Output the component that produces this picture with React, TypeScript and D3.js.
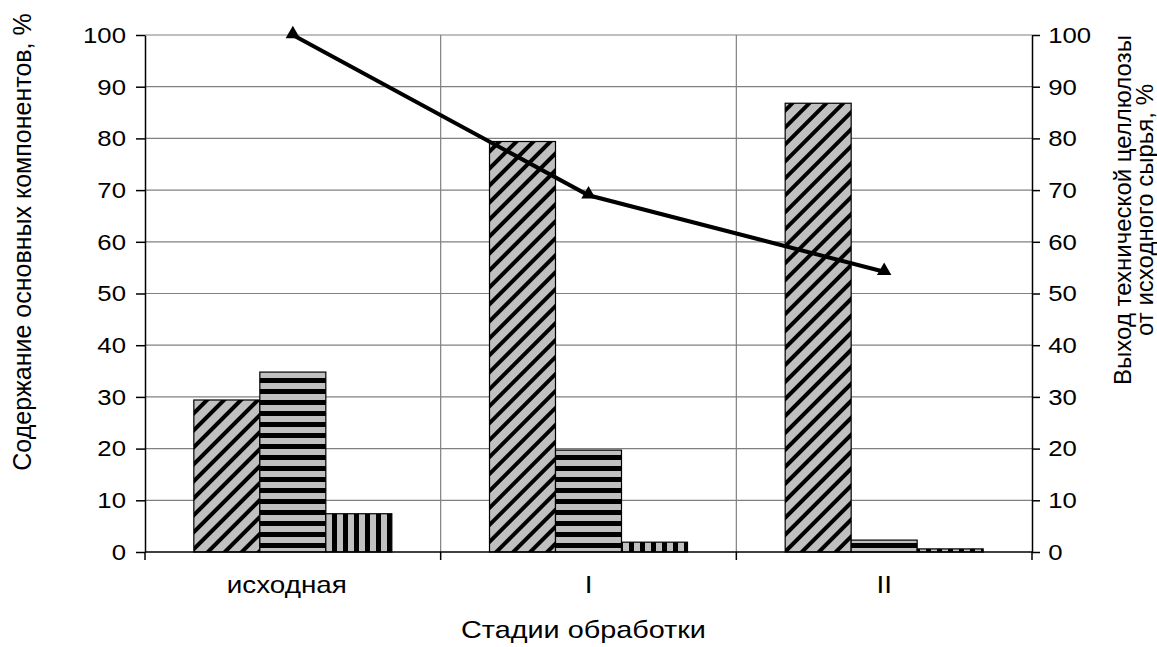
import React, { useEffect, useRef } from 'react';
import * as d3 from 'd3';

const categories = ['исходная', 'I', 'II'];
const seriesA = [29.4, 79.4, 86.8];
const seriesB = [34.8, 19.7, 2.3];
const seriesC = [7.4, 1.9, 0.6];
const yieldValues = [100, 69, 54.2];
const yTicks = [0, 10, 20, 30, 40, 50, 60, 70, 80, 90, 100];

const FONT = '"Liberation Sans", Arial, sans-serif';
const SX = 1.12; // horizontal stretch of the original picture's lettering

const App: React.FC = () => {
  const ref = useRef<SVGSVGElement>(null);

  useEffect(() => {
    if (!ref.current) return;
    const svg = d3.select(ref.current);
    svg.selectAll('*').remove();

    const width = 1157;
    const height = 647;
    const margin = { top: 35, right: 125, bottom: 95, left: 145 };
    const innerW = width - margin.left - margin.right;
    const innerH = height - margin.top - margin.bottom;

    // patterns
    const defs = svg.append('defs');
    const diag = defs.append('pattern')
      .attr('id', 'pDiag').attr('patternUnits', 'userSpaceOnUse')
      .attr('width', 12).attr('height', 12)
      .attr('patternTransform', 'rotate(45)');
    diag.append('rect').attr('width', 12).attr('height', 12).attr('fill', '#c0c0c0');
    diag.append('rect').attr('width', 4).attr('height', 12).attr('fill', '#000');

    const horiz = defs.append('pattern')
      .attr('id', 'pHoriz').attr('patternUnits', 'userSpaceOnUse')
      .attr('width', 11).attr('height', 11).attr('y', margin.top + innerH);
    horiz.append('rect').attr('width', 11).attr('height', 11).attr('fill', '#c0c0c0');
    horiz.append('rect').attr('width', 11).attr('height', 5).attr('fill', '#000');

    const vert = defs.append('pattern')
      .attr('id', 'pVert').attr('patternUnits', 'userSpaceOnUse')
      .attr('width', 11).attr('height', 11);
    vert.append('rect').attr('width', 11).attr('height', 11).attr('fill', '#c0c0c0');
    vert.append('rect').attr('width', 5).attr('height', 11).attr('fill', '#000');

    const g = svg.append('g').attr('transform', `translate(${margin.left},${margin.top})`);

    const x = d3.scaleBand().domain(categories).range([0, innerW]).padding(0);
    const xSub = d3.scaleBand<number>().domain([0, 1, 2]).range([0, x.bandwidth()])
      .paddingInner(0).paddingOuter(0.74);
    const y = d3.scaleLinear().domain([0, 100]).range([innerH, 0]);

    // gridlines
    g.selectAll('.hgrid').data(yTicks.filter(t => t > 0)).enter().append('line')
      .attr('x1', 0).attr('x2', innerW)
      .attr('y1', d => y(d)).attr('y2', d => y(d))
      .attr('stroke', '#808080').attr('stroke-width', 1.2);
    g.selectAll('.vgrid').data(categories.slice(1)).enter().append('line')
      .attr('x1', d => x(d) || 0).attr('x2', d => x(d) || 0)
      .attr('y1', 0).attr('y2', innerH)
      .attr('stroke', '#808080').attr('stroke-width', 1.2);

    // bars
    const series = [
      { values: seriesA, fill: 'url(#pDiag)' },
      { values: seriesB, fill: 'url(#pHoriz)' },
      { values: seriesC, fill: 'url(#pVert)' },
    ];
    series.forEach((s, si) => {
      g.selectAll(`.bar${si}`).data(s.values).enter().append('rect')
        .attr('x', (d, i) => (x(categories[i]) || 0) + (xSub(si) || 0))
        .attr('y', d => y(d))
        .attr('width', xSub.bandwidth())
        .attr('height', d => innerH - y(d))
        .attr('fill', s.fill)
        .attr('stroke', '#000').attr('stroke-width', 1.2);
    });

    // axes
    const axisStyle = (sel: any, side: number) => {
      sel.selectAll('line, path').attr('stroke', '#000').attr('stroke-width', 1.5);
      sel.selectAll('text')
        .style('font-family', FONT).style('font-size', '23px').style('fill', '#000')
        .attr('x', side * 19 / SX)
        .attr('transform', `scale(${SX},1)`);
    };
    g.append('g')
      .call(d3.axisLeft(y).tickValues(yTicks).tickSize(9).tickSizeOuter(0))
      .call(axisStyle, -1);
    g.append('g').attr('transform', `translate(${innerW},0)`)
      .call(d3.axisRight(y).tickValues(yTicks).tickSize(8).tickSizeOuter(0))
      .call(axisStyle, 0.85);

    const xAxis = g.append('g').attr('transform', `translate(0,${innerH})`);
    xAxis.append('line').attr('x1', 0).attr('x2', innerW).attr('stroke', '#000').attr('stroke-width', 1.5);
    const bounds = [...categories.map(c => x(c) || 0), innerW];
    xAxis.selectAll('.xt').data(bounds).enter().append('line')
      .attr('x1', d => d).attr('x2', d => d).attr('y1', 0).attr('y2', 8)
      .attr('stroke', '#000').attr('stroke-width', 1.5);
    xAxis.selectAll('.xl').data(categories).enter().append('text')
      .attr('transform', d => `translate(${(x(d) || 0) + x.bandwidth() / 2 - (d === 'исходная' ? 6 : 0)},41) scale(1.16,1)`)
      .attr('text-anchor', 'middle')
      .style('font-family', FONT).style('font-size', '24px')
      .text(d => d);

    // line series
    const cx = (i: number) => (x(categories[i]) || 0) + x.bandwidth() / 2;
    const line = d3.line<number>().x((d, i) => cx(i)).y(d => y(d));
    g.append('path').datum(yieldValues).attr('d', line)
      .attr('fill', 'none').attr('stroke', '#000').attr('stroke-width', 4);
    g.selectAll('.mk').data(yieldValues).enter().append('path')
      .attr('d', d3.symbol().type(d3.symbolTriangle).size(90))
      .attr('transform', (d, i) => `translate(${cx(i)},${y(d) - 1})`)
      .attr('fill', '#000');

    // titles
    svg.append('text')
      .attr('transform', `translate(${margin.left + innerW / 2 - 5},638) scale(1.2,1)`)
      .attr('text-anchor', 'middle')
      .style('font-family', FONT).style('font-size', '24px')
      .text('Стадии обработки');

    svg.append('text')
      .attr('transform', 'translate(31,242) rotate(-90)')
      .attr('text-anchor', 'middle')
      .style('font-family', FONT).style('font-size', '25px')
      .text('Содержание основных компонентов, %');

    const rt = svg.append('text')
      .attr('transform', 'translate(1131,210) rotate(-90)')
      .attr('text-anchor', 'middle')
      .style('font-family', FONT).style('font-size', '24px');
    rt.append('tspan').attr('x', 0).attr('dy', 0).text('Выход технической целлюлозы');
    rt.append('tspan').attr('x', 0).attr('dy', 22).text('от исходного сырья, %');
  }, []);

  return (
    <svg ref={ref} width={1157} height={647}
      style={{ position: 'absolute', left: 0, top: 0, background: '#fff' }} />
  );
};

export default App;
